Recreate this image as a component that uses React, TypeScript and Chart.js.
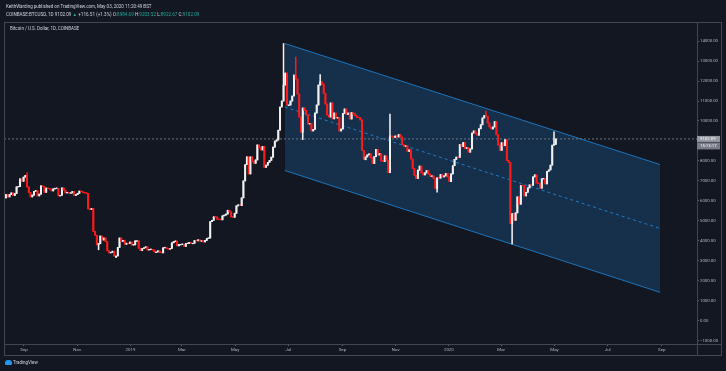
import React, { useEffect, useRef } from "react";
import { Chart, registerables } from "chart.js";
Chart.register(...registerables);

// Day 0 = 1 Sep 2018. Candles are 2-day closes starting 10 Aug 2018.
const START_DAY = -22;
const STEP_DAYS = 2;
const FIRST_OPEN = 6200;

const closes2018 = [
  6150, 6320, 6200, 6320, 6400, 6270, 6370, 6700, 6710, 7100, 6980,
  7190, 7270, 6700, 6420, 6200, 6290, 6480, 6520, 6250, 6340, 6750, 6710, 6430, 6640, 6610,
  6590, 6500, 6600, 6620, 6630, 6250, 6280, 6650, 6540, 6400, 6420, 6400, 6400, 6470, 6270, 6320,
  6380, 6490, 6460, 6420, 6400, 6380, 5600, 5560, 5620, 4470, 4280, 3800, 3860, 4240, 4040,
  4140, 3960, 3500, 3400, 3420, 3480, 3240, 3240, 3670, 4140, 3970, 4030, 3830, 3880, 3860,
];
const closes2019 = [
  3940, 3790, 3800, 4000, 4000, 3630, 3510, 3620, 3650, 3700, 3540, 3560, 3570, 3540, 3440, 3440,
  3500, 3420, 3400, 3650, 3660, 3620, 3580, 3620, 3900, 3960, 3990, 3750, 3820, 3820,
  3830, 3720, 3860, 3870, 3920, 3880, 3880, 4020, 4000, 4050, 4000, 4000, 3940, 4020, 4120,
  4140, 4960, 5030, 5200, 5190, 5080, 5070, 5050, 5250, 5290, 5340, 5530, 5450, 5200, 5180,
  5380, 5750, 5800, 5760, 6150, 7000, 7810, 8200, 7350, 8200, 7960, 7880, 8050, 8800, 8660, 8550,
  8730, 7680, 7790, 7930, 8030, 8190, 8690, 8990, 9050, 9540, 10700, 11000, 11800, 12400, 10800,
  10800, 11000, 11250, 12300, 12100, 11350, 10200, 9440, 10650, 10530, 10300, 9850, 9870, 9500, 9580,
  10400, 10800, 11800, 11960, 11850, 11380, 10850, 10300, 10200, 10900, 10110, 10400, 10150, 10170, 9500, 9600,
  10380, 10600, 10320, 10400, 10100, 10420, 10360, 10270, 10180, 10170, 10050, 8530, 8060, 8200, 8300,
  8350, 8150, 7870, 8210, 8580, 8300, 8370, 8000, 7970, 8250, 8030, 7410, 9250, 9220, 9180,
  9250, 9200, 9320, 9200, 8810, 8730, 8760, 8480, 8550, 8100, 7620, 7280, 7120, 7540, 7740,
  7400, 7300, 7400, 7520, 7340, 7220, 7250, 7110, 6620, 7150, 7140, 7320, 7200, 7250, 7380, 7200,
];
const closes2020 = [
  6960, 7350, 7760, 8080, 8190, 8180, 8820, 8720, 8920, 8630, 8660, 8440, 8600, 9400, 9500,
  9380, 9290, 9610, 9810, 10150, 10270, 10240, 9900, 9700, 9600, 9700, 9970, 9310, 8790, 8530,
  8910, 8760, 9060, 8030, 7930, 4860, 5360, 5030, 5400, 6200, 5830, 6770, 6760, 6250, 6430,
  6650, 6800, 6780, 7200, 7300, 6890, 6860, 6640, 7100, 7130, 6850, 7480, 7550, 7790, 8790,
  8830, 9102.09,
];

// Notable wick extremes (day, price)
const wickDays = [4, 85, 105, 298, 312, 319, 339, 420, 473, 530, 559, 607];
const wickPrices = [7400, 3550, 3150, 13880, 13200, 9070, 12320, 10350, 6430, 10500, 3850, 9460];

const tickDays = [0, 61, 122, 181, 242, 303, 365, 426, 487, 547, 608, 669, 731];
const tickLabels = ["Sep", "Nov", "2019", "Mar", "May", "Jul", "Sep", "Nov", "2020", "Mar", "May", "Jul", "Sep"];
const priceTicks = [-1000, 0, 1000, 2000, 3000, 4000, 5000, 6000, 7000, 8000, 9000, 10000, 11000, 12000, 13000, 14000];

const channelDays = [299, 729];
const channelTop = [13880, 7820];
const channelMid = [10700, 4620];
const channelBottom = [7520, 1420];

const lastPrice = 9102.09;
const countdown = "15:13:17";

const BG = "#131722";
const TEXT = "#b2b5be";
const UP = "#f2f2f2";
const DOWN = "#ff1a1a";
const BORDER = "#434651";
const FONT = "Roboto, 'Liberation Sans', sans-serif";

function buildCandles() {
  const closes = [...closes2018, ...closes2019, ...closes2020];
  return closes.map((c, i) => {
    const day = START_DAY + i * STEP_DAYS;
    const open = i === 0 ? FIRST_OPEN : closes[i - 1];
    let hi = Math.max(open, c);
    let lo = Math.min(open, c);
    wickDays.forEach((wd, k) => {
      if (wd > day - STEP_DAYS && wd <= day) {
        hi = Math.max(hi, wickPrices[k]);
        lo = Math.min(lo, wickPrices[k]);
      }
    });
    return { x: day - 0.5, open, close: c, hi, lo };
  });
}

export default function App() {
  const ref = useRef<HTMLCanvasElement | null>(null);

  useEffect(() => {
    const canvas = ref.current;
    if (!canvas) return;
    const candles = buildCandles();
    const colors = candles.map((c) => (c.close >= c.open ? UP : DOWN));
    const xMin = -22.9;
    const xMax = 771.4;

    const framePlugin = {
      id: "frame",
      beforeDraw(chart: any) {
        const ctx = chart.ctx;
        ctx.save();
        ctx.fillStyle = BG;
        ctx.fillRect(0, 0, chart.width, chart.height);
        ctx.restore();
      },
      afterDraw(chart: any) {
        const ctx = chart.ctx;
        const a = chart.chartArea;
        ctx.save();
        ctx.strokeStyle = BORDER;
        ctx.lineWidth = 1;
        ctx.strokeRect(a.left + 0.5, a.top + 0.5, 721 - a.left, 355 - a.top);
        ctx.beginPath();
        ctx.moveTo(Math.round(a.right) + 0.5, a.top);
        ctx.lineTo(Math.round(a.right) + 0.5, 355);
        ctx.moveTo(a.left, Math.round(a.bottom) + 0.5);
        ctx.lineTo(721, Math.round(a.bottom) + 0.5);
        ctx.stroke();
        // last price label
        const y = chart.scales.y.getPixelForValue(lastPrice);
        const x0 = Math.round(a.right);
        ctx.fillStyle = "#9598a1";
        ctx.fillRect(x0, y - 3, 23, 6);
        ctx.fillStyle = "#787b86";
        ctx.fillRect(x0, y + 3.5, 23, 7);
        ctx.fillStyle = "#ffffff";
        ctx.font = `4.3px ${FONT}`;
        ctx.textBaseline = "middle";
        ctx.textAlign = "left";
        ctx.fillText(lastPrice.toFixed(2), x0 + 3, y);
        ctx.fillText(countdown, x0 + 3, y + 7);
        ctx.restore();
      },
    };

    const chart = new Chart(canvas, {
      type: "bar",
      data: {
        datasets: [
          {
            type: "bar",
            data: candles.map((c) => ({ x: c.x, y: [c.lo, c.hi] })) as any,
            backgroundColor: colors,
            barThickness: 0.9,
            grouped: false,
            order: 1,
          } as any,
          {
            type: "bar",
            data: candles.map((c) => ({ x: c.x, y: [c.open, c.close] })) as any,
            backgroundColor: colors,
            barThickness: 1.3,
            minBarLength: 0.6,
            grouped: false,
            order: 0,
          } as any,
          {
            type: "line",
            data: channelDays.map((d, i) => ({ x: d, y: channelTop[i] })),
            borderColor: "rgba(33,150,243,0.7)",
            borderWidth: 1,
            pointRadius: 0,
            backgroundColor: "rgba(33,150,243,0.2)",
            fill: 4,
            order: 6,
          } as any,
          {
            type: "line",
            data: channelDays.map((d, i) => ({ x: d, y: channelMid[i] })),
            borderColor: "rgba(33,150,243,0.75)",
            borderWidth: 1,
            borderDash: [3, 3],
            pointRadius: 0,
            fill: false,
            order: 5,
          } as any,
          {
            type: "line",
            data: channelDays.map((d, i) => ({ x: d, y: channelBottom[i] })),
            borderColor: "rgba(33,150,243,0.7)",
            borderWidth: 1,
            pointRadius: 0,
            fill: false,
            order: 5,
          } as any,
          {
            type: "line",
            data: [
              { x: xMin, y: lastPrice },
              { x: xMax, y: lastPrice },
            ],
            borderColor: "rgba(120,123,134,0.9)",
            borderWidth: 1,
            borderDash: [2, 2],
            pointRadius: 0,
            fill: false,
            order: 3,
          } as any,
        ],
      },
      options: {
        responsive: false,
        animation: false,
        devicePixelRatio: 1,
        layout: { padding: { left: 4, top: 22, right: 5, bottom: 16 } },
        plugins: { legend: { display: false }, tooltip: { enabled: false } },
        scales: {
          x: {
            type: "linear",
            min: xMin,
            max: xMax,
            offset: false,
            afterBuildTicks: (s: any) => {
              s.ticks = tickDays.map((v) => ({ value: v }));
            },
            afterFit: (s: any) => {
              s.height = 11;
            },
            ticks: {
              autoSkip: false,
              maxRotation: 0,
              color: TEXT,
              padding: 1,
              font: { size: 4.4, family: FONT },
              callback: (v: any) => tickLabels[tickDays.indexOf(v)] ?? "",
            },
            grid: { drawOnChartArea: false, offset: false, tickLength: 2, color: "#5d606b" },
            border: { display: false },
          },
          y: {
            type: "linear",
            position: "right",
            min: -1167,
            max: 14957,
            afterBuildTicks: (s: any) => {
              s.ticks = priceTicks.map((v) => ({ value: v }));
            },
            afterFit: (s: any) => {
              s.width = 24;
            },
            ticks: {
              color: TEXT,
              padding: 1,
              font: { size: 4.3, family: FONT },
              callback: (v: any) => (v < 0 ? "\u2212" + Math.abs(v).toFixed(2) : Number(v).toFixed(2)),
            },
            grid: { drawOnChartArea: false, tickLength: 2, color: "#5d606b" },
            border: { display: false },
          },
        },
      } as any,
      plugins: [framePlugin],
    });
    return () => chart.destroy();
  }, []);

  const txt: React.CSSProperties = {
    position: "absolute",
    fontFamily: FONT,
    color: "#d1d4dc",
    whiteSpace: "nowrap",
    lineHeight: "6px",
  };
  const g = { color: "#26a69a" };

  return (
    <div style={{ position: "fixed", left: 0, top: 0, width: 726, height: 371, background: BG, overflow: "hidden" }}>
      <canvas ref={ref} width={726} height={371} style={{ position: "absolute", left: 0, top: 0, width: 726, height: 371 }} />
      <div style={{ ...txt, left: 6, top: 4, fontSize: "4.5px" }}>
        KeithWarding published on TradingView.com, May 03, 2020 11:20:49 BST
      </div>
      <div style={{ ...txt, left: 6, top: 12, fontSize: "4.6px" }}>
        COINBASE:BTCUSD, 1D 9102.09 <span style={g}>▲</span> +116.51 (+1.3%) O:<span style={g}>8984.69</span> H:
        <span style={g}>9203.52</span> L:<span style={g}>8922.67</span> C:<span style={g}>9102.09</span>
      </div>
      <div style={{ ...txt, left: 10, top: 26, fontSize: "4.5px" }}>Bitcoin / U.S. Dollar, 1D, COINBASE</div>
      <div style={{ position: "absolute", left: 5, top: 360, width: 7, height: 5, background: "#2196f3", borderRadius: "3px 3px 1px 1px" }} />
      <div style={{ ...txt, left: 13, top: 360, fontSize: "4.5px" }}>TradingView</div>
    </div>
  );
}
